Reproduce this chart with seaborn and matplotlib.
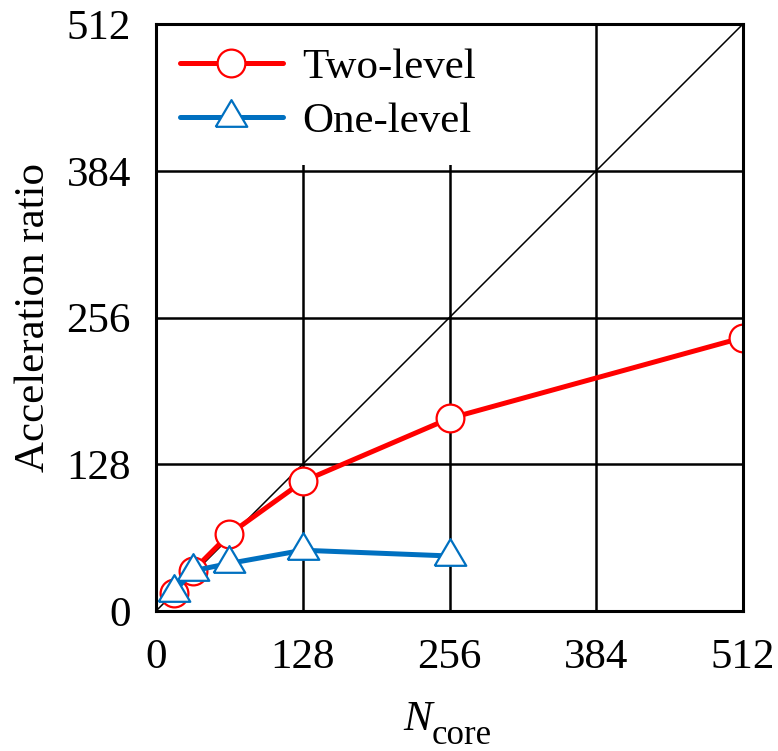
import matplotlib
matplotlib.use("Agg")
import matplotlib.pyplot as plt
import numpy as np
import pandas as pd
import seaborn as sns

# values
n_core_two = [16, 32, 64, 128, 256, 512]
accel_two = [16, 35, 67, 113, 168, 238.5]
n_core_one = [16, 32, 64, 128, 256]
accel_one = [17, 35, 41.5, 53, 48]
ticks = [0, 128, 256, 384, 512]

sns.set_style("white")
plt.rcParams['font.family'] = ['Liberation Serif', 'DejaVu Serif']
plt.rcParams['text.color'] = 'black'
plt.rcParams['axes.labelcolor'] = 'black'

FS = 31
RED = '#FF0000'
BLUE = '#0070C0'

fig = plt.figure(figsize=(7.78, 7.51), dpi=100)
ax = fig.add_axes([156 / 778, 1 - 611 / 751, 587 / 778, 587 / 751])

# excel-like triangle: wider than tall, data point sits low in the shape
tri = [(-1, -0.59), (1, -0.59), (0, 1.1), (-1, -0.59)]

df_two = pd.DataFrame({'n': n_core_two, 'a': accel_two})
df_one = pd.DataFrame({'n': n_core_one, 'a': accel_one})

sns.lineplot(data=df_two, x='n', y='a', ax=ax, color=RED, lw=3.6,
             marker='o', markersize=20, markerfacecolor='white',
             markeredgecolor=RED, markeredgewidth=1.6, label='Two-level', zorder=4)
sns.lineplot(data=df_one, x='n', y='a', ax=ax, color=BLUE, lw=3.6,
             marker=tri, markersize=25, markerfacecolor='white',
             markeredgecolor=BLUE, markeredgewidth=1.6, label='One-level', zorder=4)

# ideal speedup
ax.axline((0, 0), slope=1, color='black', lw=1.1, zorder=2)

ax.set_xlim(0, 512)
ax.set_ylim(0, 512)
ax.set_xticks(ticks)
ax.set_yticks(ticks)
ax.grid(True, color='black', lw=1.8, zorder=1)
ax.set_axisbelow(True)
for s in ax.spines.values():
    s.set_color('black')
    s.set_linewidth(2.2)
    s.set_zorder(6)
ax.tick_params(axis='both', length=0, labelsize=FS, colors='black')
ax.tick_params(axis='x', pad=20)
ax.tick_params(axis='y', pad=18)

# x label: italic N with a low, fairly large subscript (as in the original)
ax.set_xlabel('')
ax.text(0.470, -0.2027, 'N', transform=ax.transAxes, fontsize=FS,
        style='italic', ha='right', va='baseline')
ax.text(0.470, -0.2266, 'core', transform=ax.transAxes, fontsize=25,
        ha='left', va='baseline')
ax.set_ylabel('Acceleration ratio', fontsize=FS, labelpad=10)

leg = ax.legend(loc='upper left', bbox_to_anchor=(0, 1), borderaxespad=0,
                frameon=True, fancybox=False, framealpha=1, facecolor='white',
                edgecolor='none', fontsize=FS, handlelength=2.4,
                handletextpad=0.45, labelspacing=0.35, borderpad=0.55)
leg.set_zorder(5)

fig.savefig('out.png', dpi=100)
